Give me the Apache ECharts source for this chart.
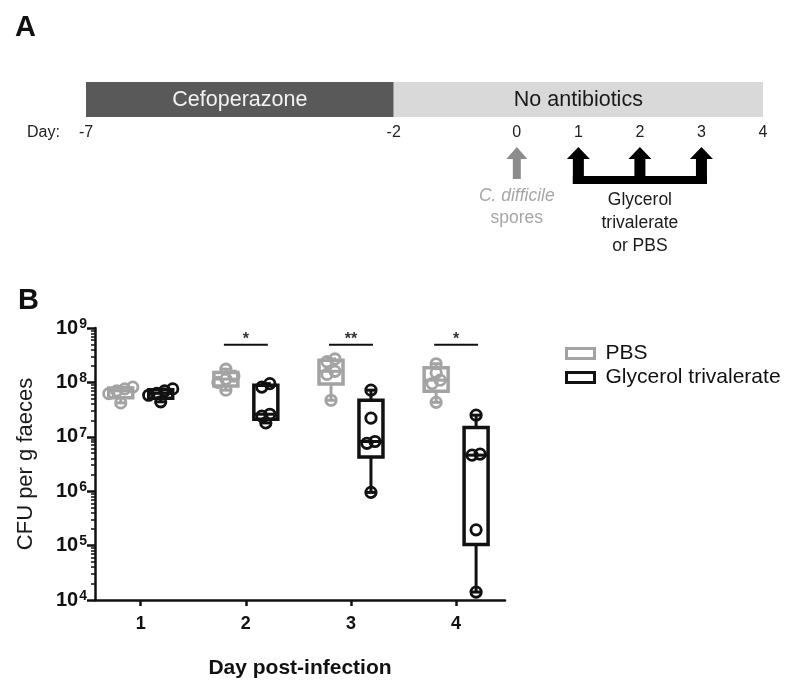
<!DOCTYPE html>
<html><head><meta charset="utf-8">
<script src="https://cdn.jsdelivr.net/npm/echarts@6/dist/echarts.min.js"></script>
<style>html,body{margin:0;padding:0;background:#fff}#c{width:800px;height:692px}</style>
</head><body><div id="c"></div>
<script>
// ---------- Panel A: experimental timeline ----------
const phaseNames = ['Cefoperazone', 'No antibiotics'];
const phaseStart = [-7, -2];
const phaseEnd = [-2, 4];
const timelineTicks = [-7, -2, 0, 1, 2, 3, 4];
const sporeDay = 0;
const treatmentDays = [1, 2, 3];
const sporeLabel = ['C. difficile', 'spores'];
const treatmentLabel = ['Glycerol', 'trivalerate', 'or PBS'];

// ---------- Panel B: CFU per g faeces ----------
const days = [1, 2, 3, 4];
const seriesNames = ['PBS', 'Glycerol trivalerate'];
const pbsCFU = [
  [4.2e7, 6.2e7, 7.0e7, 7.6e7, 8.2e7],
  [7.2e7, 1.0e8, 1.15e8, 1.3e8, 1.75e8],
  [4.7e7, 1.4e8, 1.6e8, 2.4e8, 2.7e8],
  [4.3e7, 9.5e7, 1.1e8, 1.5e8, 2.2e8]
];
const gtCFU = [
  [4.4e7, 5.8e7, 6.3e7, 7.0e7, 7.6e7],
  [1.8e7, 2.4e7, 2.6e7, 8.2e7, 9.5e7],
  [9.5e5, 7.6e6, 8.2e6, 2.2e7, 7.2e7],
  [1.4e4, 1.95e5, 4.6e6, 4.8e6, 2.5e7]
];
const sigDays = [2, 3, 4];
const sigLabels = ['*', '**', '*'];
const sigLevel = 4.9e8;
const yMin = 1e4, yMax = 1e9;

const FONT = "'Liberation Sans', Arial, Helvetica, sans-serif";
const GRAY = '#a3a3a3', BLACK = '#111111';
const SHIFT = 0.19;

function quantile(sorted, p) {
  const n = sorted.length;
  let pos = p * (n + 1);
  pos = Math.min(Math.max(pos, 1), n);
  const lo = Math.floor(pos), hi = Math.ceil(pos);
  return sorted[lo - 1] + (pos - lo) * (sorted[hi - 1] - sorted[lo - 1]);
}

// group points (pixel y) into rows of near-equal height, centre each row
function rowOffsets(ys, thr, step) {
  const out = new Array(ys.length).fill(0);
  let row = [0];
  const flush = () => {
    const k = row.length;
    row.forEach((idx, j) => { out[idx] = (j - (k - 1) / 2) * step; });
  };
  for (let i = 1; i < ys.length; i++) {
    if (Math.abs(ys[i] - ys[row[row.length - 1]]) < thr) row.push(i);
    else { flush(); row = [i]; }
  }
  flush();
  return out;
}

function makeBoxSeries(name, values, shift, color) {
  const data = days.map((d, i) => {
    const s = values[i].slice().sort((a, b) => a - b);
    return [d, s[0], quantile(s, 0.25), quantile(s, 0.5), quantile(s, 0.75), s[s.length - 1]];
  });
  return {
    type: 'custom', name, xAxisIndex: 0, yAxisIndex: 0,
    itemStyle: { color },
    encode: { x: 0, y: [1, 2, 3, 4, 5] },
    data,
    z: 3,
    renderItem(params, api) {
      const x = api.value(0) + shift;
      const p = k => api.coord([x, api.value(k)]);
      const pMin = p(1), pQ1 = p(2), pMed = p(3), pQ3 = p(4), pMax = p(5);
      const cx = pMin[0];
      const hw = 12, capW = 5;
      const ls = { stroke: color, lineWidth: 3, fill: null };
      const ch = [];
      ch.push({ type: 'line', shape: { x1: cx, y1: pQ3[1], x2: cx, y2: pMax[1] }, style: ls });
      ch.push({ type: 'line', shape: { x1: cx, y1: pQ1[1], x2: cx, y2: pMin[1] }, style: ls });
      ch.push({ type: 'line', shape: { x1: cx - capW, y1: pMax[1], x2: cx + capW, y2: pMax[1] }, style: ls });
      ch.push({ type: 'line', shape: { x1: cx - capW, y1: pMin[1], x2: cx + capW, y2: pMin[1] }, style: ls });
      ch.push({ type: 'rect', shape: { x: cx - hw, y: pQ3[1], width: 2 * hw, height: pQ1[1] - pQ3[1] },
        style: { fill: '#fff', stroke: color, lineWidth: 3.5 } });
      ch.push({ type: 'line', shape: { x1: cx - hw, y1: pMed[1], x2: cx + hw, y2: pMed[1] }, style: ls });
      const vals = values[params.dataIndex].slice().sort((a, b) => a - b);
      const pts = vals.map(v => api.coord([x, v]));
      const offs = rowOffsets(pts.map(q => q[1]), 5, 8);
      pts.forEach((pt, i) => {
        ch.push({ type: 'circle', shape: { cx: pt[0] + offs[i], cy: pt[1], r: 5.2 }, style: { fill: null, stroke: color, lineWidth: 2.8 } });
      });
      return { type: 'group', children: ch };
    }
  };
}

const minorTicks = [];
for (let e = Math.log10(yMin); e < Math.log10(yMax); e++) {
  for (let m = 2; m <= 9; m++) minorTicks.push(e + Math.log10(m));
}

const chart = echarts.init(document.getElementById('c'), null, { renderer: 'canvas' });
chart.setOption({
  backgroundColor: '#fff',
  animation: false,
  textStyle: { fontFamily: FONT },
  graphic: [
    { type: 'text', left: 15, top: 13, style: { text: 'A', font: 'bold 29px ' + FONT, fill: '#111' } },
    { type: 'text', left: 18, top: 286, style: { text: 'B', font: 'bold 29px ' + FONT, fill: '#111' } },
    { type: 'text', left: 27, top: 125, style: { text: 'Day:', font: '16px ' + FONT, fill: '#222' } }
  ],
  legend: {
    left: 560, top: 338, orient: 'vertical', itemWidth: 28, itemHeight: 10, itemGap: 3,
    selectedMode: false,
    textStyle: { fontSize: 21, color: '#111', fontFamily: FONT, padding: [0, 0, 0, 6] },
    data: [
      { name: seriesNames[0], icon: 'rect', itemStyle: { color: '#fff', borderColor: GRAY, borderWidth: 3 } },
      { name: seriesNames[1], icon: 'rect', itemStyle: { color: '#fff', borderColor: BLACK, borderWidth: 3 } }
    ]
  },
  grid: [
    { left: 95, top: 328, width: 410, height: 272 },
    { left: 86, top: 82, width: 677, height: 35 }
  ],
  xAxis: [
    {
      gridIndex: 0, type: 'value', min: 0.565, max: 4.465,
      axisLine: { show: true, onZero: false, lineStyle: { color: BLACK, width: 2.5 } },
      axisTick: { show: true, customValues: days, length: 6, lineStyle: { color: BLACK, width: 2.5 } },
      axisLabel: { customValues: days, fontSize: 18, fontWeight: 'bold', color: BLACK, margin: 15, fontFamily: FONT },
      splitLine: { show: false },
      name: 'Day post-infection', nameLocation: 'middle', nameGap: 58,
      nameTextStyle: { fontSize: 21, fontWeight: 'bold', color: BLACK, fontFamily: FONT }
    },
    {
      gridIndex: 1, type: 'value', min: -7, max: 4,
      axisLine: { show: false }, axisTick: { show: false }, splitLine: { show: false },
      axisLabel: { customValues: timelineTicks, fontSize: 16, color: '#222', margin: 8, fontFamily: FONT }
    }
  ],
  yAxis: [
    {
      gridIndex: 0, type: 'log', logBase: 10, min: yMin, max: yMax, position: 'left',
      axisLine: { show: true, onZero: false, lineStyle: { color: BLACK, width: 2.5 } },
      axisTick: { show: true, length: 8, lineStyle: { color: BLACK, width: 2.5 } },
      splitLine: { show: false },
      axisLabel: {
        margin: 8,
        formatter: v => '{b|10}{s|' + Math.round(Math.log10(v)) + '}',
        rich: {
          b: { fontSize: 20, fontWeight: 'bold', color: BLACK, fontFamily: FONT, lineHeight: 22 },
          s: { fontSize: 14, fontWeight: 'bold', color: BLACK, fontFamily: FONT, verticalAlign: 'top', lineHeight: 14, padding: [0, 0, 8, 1] }
        }
      },
      name: 'CFU per g faeces', nameLocation: 'middle', nameGap: 58, nameRotate: 90,
      nameTextStyle: { fontSize: 22, color: '#1a1a1a', fontFamily: FONT }
    },
    {
      gridIndex: 0, type: 'value', min: 4, max: 9, position: 'left',
      axisLine: { show: false },
      axisTick: { show: true, customValues: minorTicks, length: 4, lineStyle: { color: BLACK, width: 1.5 } },
      axisLabel: { show: false }, splitLine: { show: false }
    },
    { gridIndex: 1, type: 'value', min: 0, max: 1, show: false }
  ],
  series: [
    makeBoxSeries(seriesNames[0], pbsCFU, -SHIFT, GRAY),
    makeBoxSeries(seriesNames[1], gtCFU, SHIFT, BLACK),
    {
      type: 'custom', name: 'sig', xAxisIndex: 0, yAxisIndex: 0,
      data: sigDays.map((d, i) => [d, sigLevel, i]),
      renderItem(params, api) {
        const d = api.value(0), lvl = api.value(1);
        const a = api.coord([d - SHIFT, lvl]), b = api.coord([d + SHIFT, lvl]);
        return { type: 'group', children: [
          { type: 'line', shape: { x1: a[0] - 2, y1: a[1], x2: b[0] + 2, y2: b[1] }, style: { stroke: BLACK, lineWidth: 2 } },
          { type: 'text', x: (a[0] + b[0]) / 2, y: a[1] + 3,
            style: { text: sigLabels[api.value(2)], font: 'bold 16px ' + FONT, fill: '#333', align: 'center', verticalAlign: 'bottom' } }
        ] };
      }
    },
    {
      type: 'custom', name: 'phases', xAxisIndex: 1, yAxisIndex: 2,
      data: phaseStart.map((s, i) => [s, phaseEnd[i], i]),
      encode: { x: [0, 1] },
      renderItem(params, api) {
        const i = api.value(2);
        const p0 = api.coord([api.value(0), 1]), p1 = api.coord([api.value(1), 0]);
        const dark = i === 0;
        return { type: 'group', children: [
          { type: 'rect', shape: { x: p0[0], y: p0[1], width: p1[0] - p0[0], height: p1[1] - p0[1] },
            style: { fill: dark ? '#595959' : '#d9d9d9' } },
          { type: 'text', x: (p0[0] + p1[0]) / 2, y: (p0[1] + p1[1]) / 2 + 1,
            style: { text: phaseNames[i], font: '21.5px ' + FONT, fill: dark ? '#f2f2f2' : '#1a1a1a', align: 'center', verticalAlign: 'middle' } }
        ] };
      }
    },
    {
      type: 'custom', name: 'spores', xAxisIndex: 1, yAxisIndex: 2,
      data: [[sporeDay, 0]],
      renderItem(params, api) {
        const p = api.coord([api.value(0), 0]);
        const cx = p[0], base = p[1];
        const tip = base + 30, head = base + 42, bot = base + 62, hh = 10.5, hs = 4;
        const col = '#8c8c8c';
        return { type: 'group', children: [
          { type: 'polygon', shape: { points: [[cx, tip], [cx + hh, head], [cx + hs, head], [cx + hs, bot], [cx - hs, bot], [cx - hs, head], [cx - hh, head]] }, style: { fill: col } },
          { type: 'text', x: cx, y: base + 79, style: { text: sporeLabel[0], font: 'italic 17.5px ' + FONT, fill: '#a6a6a6', align: 'center', verticalAlign: 'middle' } },
          { type: 'text', x: cx, y: base + 101, style: { text: sporeLabel[1], font: '17.5px ' + FONT, fill: '#a6a6a6', align: 'center', verticalAlign: 'middle' } }
        ] };
      }
    },
    {
      type: 'custom', name: 'treatment', xAxisIndex: 1, yAxisIndex: 2,
      data: [[treatmentDays[0], treatmentDays[treatmentDays.length - 1]]],
      encode: { x: [0, 1] },
      renderItem(params, api) {
        const ch = [];
        const base = api.coord([treatmentDays[0], 0])[1];
        const tip = base + 30, head = base + 42, barTop = base + 59, bot = base + 67, hh = 11.5, hs = 5.5;
        const xs = treatmentDays.map(d => api.coord([d, 0])[0]);
        xs.forEach(cx => {
          ch.push({ type: 'polygon', shape: { points: [[cx, tip], [cx + hh, head], [cx + hs, head], [cx + hs, bot], [cx - hs, bot], [cx - hs, head], [cx - hh, head]] }, style: { fill: '#000' } });
        });
        ch.push({ type: 'rect', shape: { x: xs[0] - hs, y: barTop, width: xs[xs.length - 1] - xs[0] + 2 * hs, height: bot - barTop }, style: { fill: '#000' } });
        const mid = (xs[0] + xs[xs.length - 1]) / 2;
        treatmentLabel.forEach((t, i) => {
          ch.push({ type: 'text', x: mid, y: base + 83 + i * 23, style: { text: t, font: '17.5px ' + FONT, fill: '#1a1a1a', align: 'center', verticalAlign: 'middle' } });
        });
        return { type: 'group', children: ch };
      }
    }
  ]
});
</script>
</body></html>
